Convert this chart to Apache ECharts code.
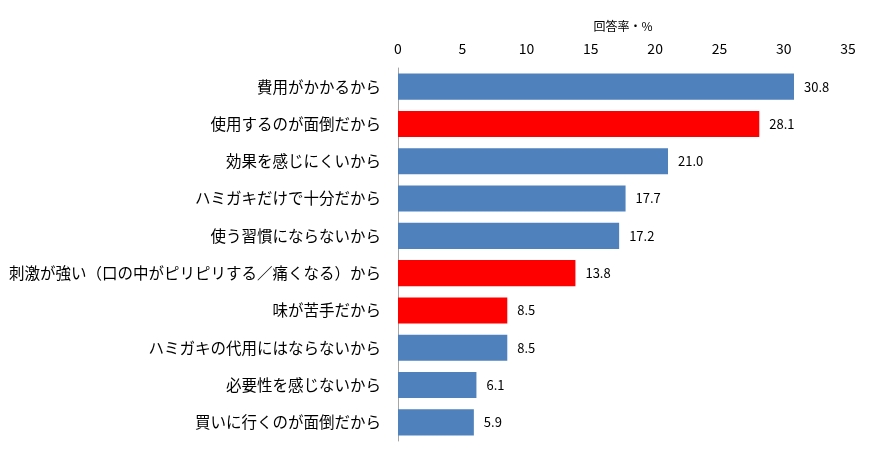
<!DOCTYPE html>
<html><head><meta charset="utf-8">
<script src="https://cdn.jsdelivr.net/npm/echarts@6/dist/echarts.min.js"></script>
<style>html,body{margin:0;padding:0;background:#fff}#c{width:872px;height:456px}</style>
</head><body><div id="c"></div>
<script>
const categories = ["費用がかかるから","使用するのが面倒だから","効果を感じにくいから","ハミガキだけで十分だから","使う習慣にならないから","刺激が強い（口の中がピリピリする／痛くなる）から","味が苦手だから","ハミガキの代用にはならないから","必要性を感じないから","買いに行くのが面倒だから"];
const values = [30.8,28.1,21.0,17.7,17.2,13.8,8.5,8.5,6.1,5.9];
const highlighted = [false,true,false,false,false,true,true,false,false,false];
const xTicks = [0,5,10,15,20,25,30,35];
const axisTitle = "回答率・%";

const font = '"Noto Sans CJK JP", "Noto Sans", sans-serif';
const chart = echarts.init(document.getElementById('c'));
chart.setOption({
  animation:false,
  grid:{left:398, right:24, top:68, bottom:15},
  xAxis:{type:'value', position:'top', min:xTicks[0], max:xTicks[xTicks.length-1], interval:5,
    name:axisTitle, nameLocation:'middle', nameGap:36,
    nameTextStyle:{fontFamily:font, fontSize:12, color:'#000'},
    axisLine:{show:false}, axisTick:{show:false}, splitLine:{show:false},
    axisLabel:{fontFamily:font, fontSize:14, color:'#000', margin:12}},
  yAxis:{type:'category', inverse:true, data:categories,
    axisLine:{show:true, lineStyle:{color:'#a6a6a6', width:1}}, axisTick:{show:false},
    axisLabel:{fontFamily:font, fontSize:15.5, color:'#000', margin:17}},
  series:[{type:'bar', barWidth:'70%',
    data: values.map((v,i)=>({value:v, itemStyle:{color: highlighted[i] ? '#FF0000' : '#4F81BD'}})),
    label:{show:true, position:'right', distance:10, fontFamily:font, fontSize:13, color:'#000',
      formatter:p=>p.value.toFixed(1)}}]
});
</script></body></html>
